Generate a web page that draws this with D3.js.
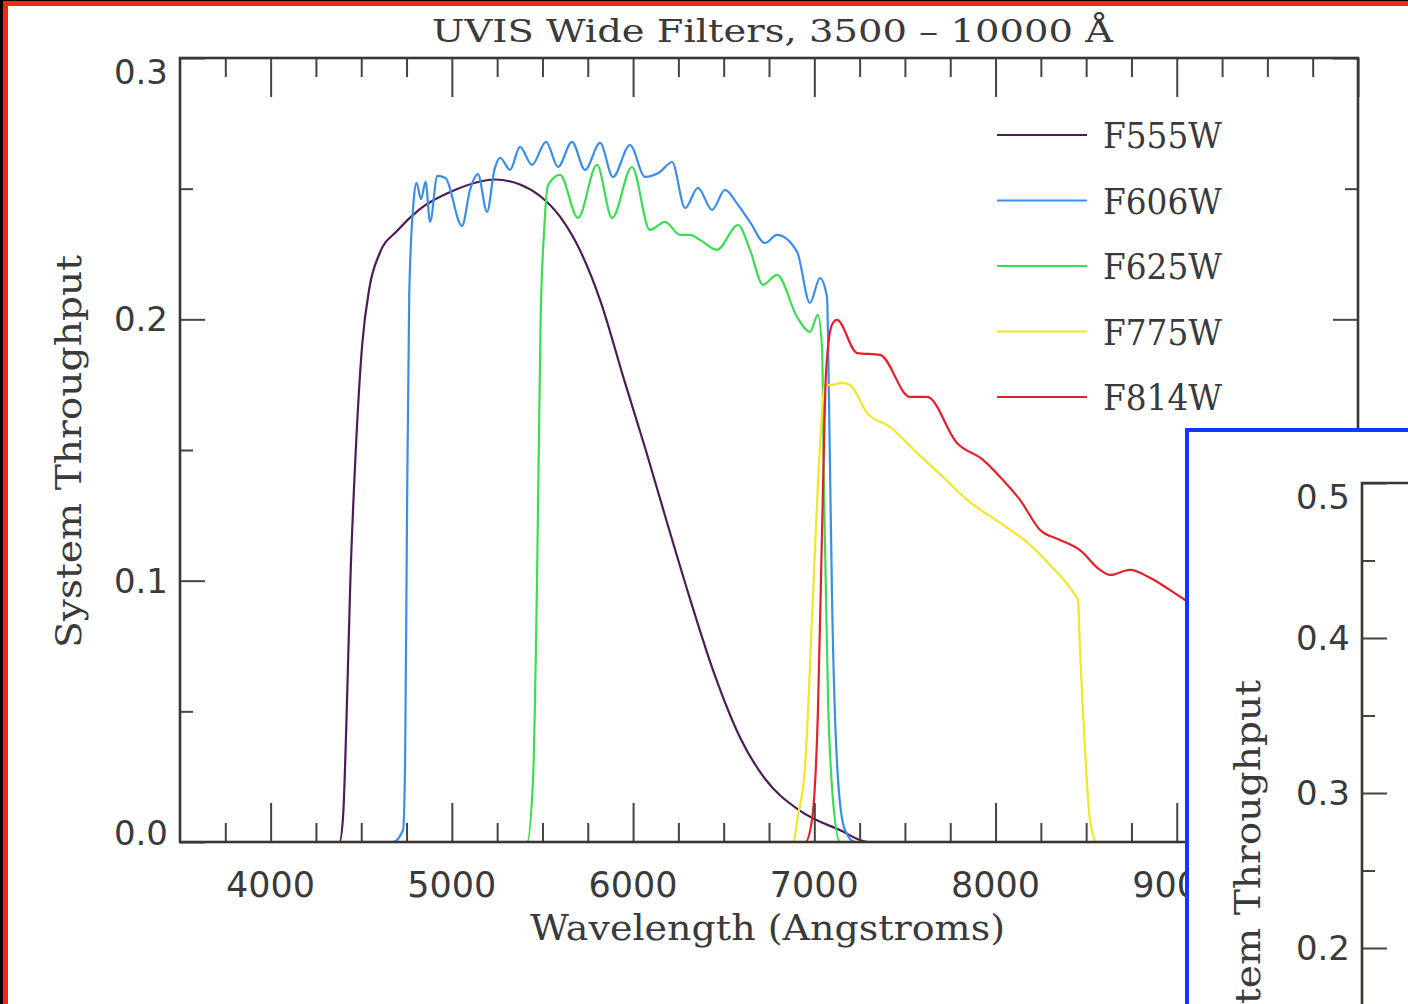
<!DOCTYPE html>
<html>
	<head>
		<meta charset="utf-8">
		<title>UVIS Wide Filters</title>
		<script src="https://d3js.org/d3.v7.min.js"></script>
		<style type="text/css">
			body { margin: 0; background: #000; overflow: hidden; }
			.tick line { stroke-width: 2px; }
		</style>
	</head>
	<body>
		<script type="text/javascript">

			var svgWidth = 1408;
			var svgHeight = 1004;

			// throughput curves, [wavelength (A), system throughput]
			var f555w = [
				[3500, 0], [4300, 0], [4380, 0], [4400, 0.01], [4420, 0.05], [4440, 0.10],
				[4470, 0.15], [4505, 0.19], [4545, 0.212], [4600, 0.225], [4700, 0.234], [4820, 0.242],
				[5000, 0.249], [5240, 0.2535], [5380, 0.2515], [5490, 0.247], [5600, 0.239],
				[5710, 0.226], [5820, 0.207], [5950, 0.177], [6070, 0.15], [6180, 0.124],
				[6310, 0.094], [6450, 0.064], [6590, 0.040], [6730, 0.024], [6920, 0.012],
				[7140, 0.0046], [7300, 0], [10000, 0]
			];
			var f606w = [
				[3500, 0], [4675, 0], [4731, 0.0046], [4742, 0.03], [4752, 0.12], [4765, 0.21],
				[4790, 0.246], [4805, 0.2522], [4830, 0.246], [4855, 0.2526], [4880, 0.2373],
				[4920, 0.2549], [4965, 0.2541], [5056, 0.2357], [5100, 0.2495], [5144, 0.2556],
				[5194, 0.2411], [5235, 0.2572], [5266, 0.2618], [5321, 0.2572], [5376, 0.266],
				[5442, 0.2591], [5520, 0.2679], [5586, 0.2583], [5663, 0.2679], [5735, 0.2572],
				[5818, 0.2675], [5889, 0.2545], [5983, 0.2667], [6066, 0.2545], [6149, 0.2564],
				[6215, 0.2602], [6287, 0.2426], [6358, 0.2503], [6436, 0.2419], [6507, 0.2495],
				[6579, 0.2438], [6645, 0.2373], [6728, 0.2292], [6794, 0.2323], [6905, 0.2258],
				[6976, 0.2063], [7031, 0.2158], [7070, 0.2086], [7081, 0.1691], [7098, 0.0926],
				[7131, 0.0237], [7169, 0.0046], [7225, 0], [10000, 0]
			];
			var f625w = [
				[3500, 0], [5415, 0], [5448, 0.024], [5470, 0.1], [5490, 0.2], [5510, 0.235],
				[5531, 0.2514], [5597, 0.2553], [5696, 0.2388], [5801, 0.2591], [5884, 0.2388],
				[5994, 0.2583], [6093, 0.2342], [6176, 0.2373], [6259, 0.2323], [6314, 0.2323],
				[6369, 0.2304], [6463, 0.2266], [6579, 0.2361], [6645, 0.2266], [6717, 0.2132],
				[6794, 0.217], [6905, 0.2009], [6976, 0.1952], [7020, 0.2017], [7043, 0.1883],
				[7054, 0.1309], [7076, 0.054], [7103, 0.0161], [7142, 0], [10000, 0]
			];
			var f775w = [
				[3500, 0], [6883, 0], [6910, 0.01], [6950, 0.03], [6987, 0.085], [7030, 0.15],
				[7059, 0.1749], [7098, 0.1749], [7150, 0.1757], [7197, 0.1749], [7291, 0.1642],
				[7418, 0.1588], [7567, 0.1489], [7710, 0.1397], [7843, 0.1309], [8025, 0.1221],
				[8190, 0.1137], [8301, 0.106], [8439, 0.0945], [8455, 0.0926], [8466, 0.0735],
				[8494, 0.0352], [8521, 0.0084], [8560, 0], [10000, 0]
			];
			var f814w = [
				[3500, 0], [6950, 0], [6987, 0.0084], [7020, 0.05], [7043, 0.12], [7065, 0.18],
				[7098, 0.198], [7125, 0.1998], [7236, 0.1871], [7363, 0.1864], [7528, 0.1703],
				[7622, 0.1703], [7787, 0.1527], [7931, 0.1462], [8025, 0.1397], [8135, 0.1309],
				[8246, 0.1194], [8356, 0.1156], [8466, 0.1117], [8577, 0.1041], [8632, 0.1022],
				[8742, 0.1041], [8852, 0.1011], [8963, 0.0964], [9046, 0.0926], [9200, 0.085],
				[9400, 0.07], [9600, 0.05], [9800, 0.03], [10000, 0.015]
			];

			var filterNames = ['F555W', 'F606W', 'F625W', 'F775W', 'F814W'];
			var filterData = [f555w, f606w, f625w, f775w, f814w];
			var filterColors = ['#4b1c55', '#3a8ee6', '#3ddc55', '#f2e62a', '#e4202c'];

			var xMajor = [4000, 5000, 6000, 7000, 8000, 9000, 10000];
			var xMinor = d3.range(3750, 10000, 250);
			var xLabelValues = [4000, 5000, 6000, 7000, 8000, 9000];
			var xLabels = ['4000', '5000', '6000', '7000', '8000', '9000'];
			var yMajor = [0, 0.1, 0.2, 0.3];
			var yMinor = [0.05, 0.15, 0.25];
			var yLabels = ['0.0', '0.1', '0.2', '0.3'];

			var insetMajor = [0.2, 0.3, 0.4, 0.5];
			var insetMinor = [0.15, 0.25, 0.35, 0.45];
			var insetLabels = ['0.2', '0.3', '0.4', '0.5'];

			var titleText = 'UVIS Wide Filters, 3500 \u2013 10000 \u00C5';
			var xTitle = 'Wavelength (Angstroms)';
			var yTitle = 'System Throughput';

			//scales
			var pLeft = 180, pRight = 1358, pTop = 58, pBottom = 842;
			var xScale = d3.scaleLinear().domain([3500, 10000]).range([pLeft, pRight]);
			var yScale = d3.scaleLinear().domain([0, 0.3]).range([pBottom, pTop]);

			var svg = d3.select('body')
				.append('svg')
				.attr('width', svgWidth)
				.attr('height', svgHeight);

			//frame of the slide
			svg.append('rect').attr('width', svgWidth).attr('height', svgHeight).attr('fill', '#000');
			svg.append('rect').attr('x', 3).attr('y', 1).attr('width', svgWidth).attr('height', svgHeight)
				.attr('fill', '#f32a10');
			svg.append('rect').attr('x', 8).attr('y', 6).attr('width', svgWidth).attr('height', svgHeight)
				.attr('fill', '#fff');

			//curves
			var line = d3.line()
				.x(function(d) { return xScale(d[0]); })
				.y(function(d) { return yScale(d[1]); })
				.curve(d3.curveMonotoneX);

			svg.selectAll('path.curve')
				.data(filterData)
				.enter()
				.append('path')
				.attr('class', 'curve')
				.attr('d', line)
				.attr('fill', 'none')
				.attr('stroke', function(d, i) { return filterColors[i]; })
				.attr('stroke-width', 2.2);

			//ticks
			function ticks(axis, tx, ty, values, size) {
				var g = svg.append('g')
					.attr('transform', 'translate(' + tx + ',' + ty + ')')
					.attr('color', '#444')
					.call(axis.tickValues(values).tickSize(size).tickSizeOuter(0).tickFormat(''));
				g.select('.domain').remove();
			}
			var xMinorOnly = xMinor.filter(function(v) { return v % 1000; });
			ticks(d3.axisBottom(xScale), 0, pBottom, xMajor, -39);
			ticks(d3.axisBottom(xScale), 0, pBottom, xMinorOnly, -19);
			ticks(d3.axisTop(xScale), 0, pTop, xMajor, -39);
			ticks(d3.axisTop(xScale), 0, pTop, xMinorOnly, -19);
			ticks(d3.axisLeft(yScale), pLeft, 0, yMajor, -25);
			ticks(d3.axisLeft(yScale), pLeft, 0, yMinor, -13);
			ticks(d3.axisRight(yScale), pRight, 0, yMajor, -25);
			ticks(d3.axisRight(yScale), pRight, 0, yMinor, -13);

			svg.append('rect')
				.attr('x', pLeft).attr('y', pTop)
				.attr('width', pRight - pLeft).attr('height', pBottom - pTop)
				.attr('fill', 'none')
				.attr('stroke', '#3d3530')
				.attr('stroke-width', 2.6);

			//tick labels
			svg.selectAll('text.xlab')
				.data(xLabelValues)
				.enter()
				.append('text')
				.attr('class', 'xlab')
				.text(function(d, i) { return xLabels[i]; })
				.attr('x', function(d) { return xScale(d); })
				.attr('y', 897)
				.attr('text-anchor', 'middle')
				.attr('font-family', 'DejaVu Sans')
				.attr('font-size', '35px')
				.attr('fill', '#3a3a3a');

			function yLabelPos(v, sc, t, b) {
				return Math.min(Math.max(sc(v), t + 14), b - 9) + 12;
			}

			svg.selectAll('text.ylab')
				.data(yMajor)
				.enter()
				.append('text')
				.attr('class', 'ylab')
				.text(function(d, i) { return yLabels[i]; })
				.attr('x', 168)
				.attr('y', function(d) { return yLabelPos(d, yScale, pTop, pBottom); })
				.attr('text-anchor', 'end')
				.attr('font-family', 'DejaVu Sans')
				.attr('font-size', '34px')
				.attr('fill', '#3a3a3a');

			//titles
			svg.append('text')
				.text(titleText)
				.attr('x', 432).attr('y', 42)
				.attr('textLength', 681)
				.attr('lengthAdjust', 'spacingAndGlyphs')
				.attr('font-family', 'DejaVu Serif')
				.attr('font-size', '31px')
				.attr('fill', '#3a3a3a');

			svg.append('text')
				.text(xTitle)
				.attr('x', 530).attr('y', 940)
				.attr('textLength', 475)
				.attr('lengthAdjust', 'spacingAndGlyphs')
				.attr('font-family', 'DejaVu Serif')
				.attr('font-size', '36px')
				.attr('fill', '#3a3a3a');

			svg.append('text')
				.text(yTitle)
				.attr('transform', 'translate(81,648) rotate(-90)')
				.attr('textLength', 393)
				.attr('lengthAdjust', 'spacingAndGlyphs')
				.attr('font-family', 'DejaVu Serif')
				.attr('font-size', '36px')
				.attr('fill', '#3a3a3a');

			//legend
			var legend = svg.selectAll('g.legend')
				.data(filterNames)
				.enter()
				.append('g')
				.attr('class', 'legend')
				.attr('transform', function(d, i) { return 'translate(0,' + (135 + i * 65.5) + ')'; });

			legend.append('line')
				.attr('x1', 997).attr('x2', 1087)
				.attr('stroke', function(d, i) { return filterColors[i]; })
				.attr('stroke-width', 2);

			legend.append('text')
				.text(function(d) { return d; })
				.attr('x', 1103).attr('y', 13)
				.attr('textLength', 119)
				.attr('lengthAdjust', 'spacingAndGlyphs')
				.attr('font-family', 'DejaVu Serif')
				.attr('font-size', '36px')
				.attr('fill', '#3a3a3a');

			//inset panel, mostly off the slide
			var inset = svg.append('g');
			inset.append('rect')
				.attr('x', 1187).attr('y', 430)
				.attr('width', 400).attr('height', 800)
				.attr('fill', '#fff')
				.attr('stroke', '#1038ff')
				.attr('stroke-width', 4);

			var iLeft = 1362, iTop = 483, iBottom = 1258;
			var insetY = d3.scaleLinear().domain([0, 0.5]).range([iBottom, iTop]);

			var ig = inset.append('g')
				.attr('transform', 'translate(' + iLeft + ',0)')
				.attr('color', '#444')
				.call(d3.axisLeft(insetY).tickValues(insetMajor).tickSize(-25).tickSizeOuter(0).tickFormat(''));
			ig.select('.domain').remove();
			var ig2 = inset.append('g')
				.attr('transform', 'translate(' + iLeft + ',0)')
				.attr('color', '#444')
				.call(d3.axisLeft(insetY).tickValues(insetMinor).tickSize(-13).tickSizeOuter(0).tickFormat(''));
			ig2.select('.domain').remove();

			inset.append('path')
				.attr('d', 'M' + iLeft + ',' + iBottom + 'V' + iTop + 'H' + 1420)
				.attr('fill', 'none')
				.attr('stroke', '#3d3530')
				.attr('stroke-width', 2.6);

			inset.selectAll('text.ilab')
				.data(insetMajor)
				.enter()
				.append('text')
				.attr('class', 'ilab')
				.text(function(d, i) { return insetLabels[i]; })
				.attr('x', 1350)
				.attr('y', function(d) { return yLabelPos(d, insetY, iTop, iBottom); })
				.attr('text-anchor', 'end')
				.attr('font-family', 'DejaVu Sans')
				.attr('font-size', '34px')
				.attr('fill', '#3a3a3a');

			inset.append('text')
				.text(yTitle)
				.attr('transform', 'translate(1260,1073) rotate(-90)')
				.attr('textLength', 393)
				.attr('lengthAdjust', 'spacingAndGlyphs')
				.attr('font-family', 'DejaVu Serif')
				.attr('font-size', '36px')
				.attr('fill', '#3a3a3a');

		</script>
	</body>
</html>
